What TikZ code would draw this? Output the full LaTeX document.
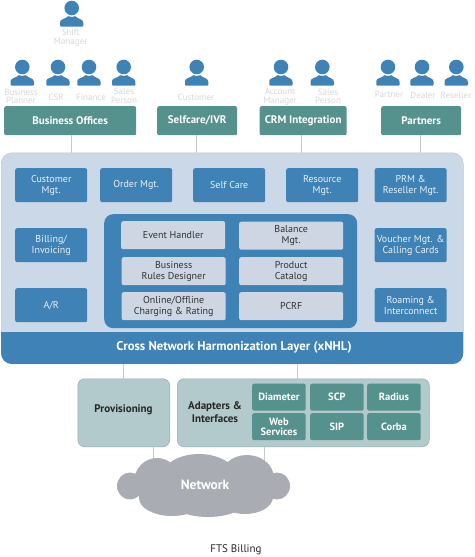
\documentclass[tikz,border=0pt]{standalone}
\usepackage{fontspec}
\setmainfont{PT Sans}
\usetikzlibrary{calc}

\definecolor{tealbox}{HTML}{55918D}
\definecolor{bluebox}{HTML}{3F82B5}
\definecolor{panelbg}{HTML}{CBD8E8}
\definecolor{innerbg}{HTML}{CDD6E2}
\definecolor{greenbg}{HTML}{B2CACB}
\definecolor{cloudgray}{HTML}{A9ADB3}
\definecolor{linegray}{HTML}{C6CACD}
\definecolor{rolegray}{HTML}{D9D6DA}

\begin{document}
\begin{tikzpicture}[x=1pt,y=-1pt,
  box/.style={rounded corners=2pt,inner sep=0pt,align=center,anchor=north west},
  gatebox/.style={box,fill=tealbox,text=white,font=\fontsize{11}{12}\selectfont\bfseries},
  modbox/.style={box,fill=bluebox,text=white!88!bluebox,minimum width=72pt,minimum height=34pt,font=\fontsize{10}{11}\selectfont},
  corebox/.style={box,fill=innerbg,text=black!80,minimum width=104pt,minimum height=28pt,font=\fontsize{10}{11}\selectfont},
  ifbox/.style={box,fill=tealbox,text=white,minimum width=53.5pt,minimum height=27pt,font=\fontsize{10.5}{9.5}\selectfont\bfseries},
  greenpanel/.style={box,fill=greenbg,draw=greenbg!85!black,line width=0.5pt,rounded corners=7pt,minimum height=68pt},
  role/.style={text=rolegray,align=center,inner sep=0pt,font=\fontsize{9}{8.6}\selectfont},
  link/.style={draw=linegray,line width=1pt},
  person/.pic={
    \fill[bluebox] (0,0) circle (7.3);
    \fill[bluebox] (-11.7,18.7) [rounded corners=1pt] -- (-11.7,15) [sharp corners] .. controls (-11.7,11) and (-6,11) .. (-3.5,8.2)
      .. controls (-1.5,9.2) and (1.5,9.2) .. (3.5,8.2) .. controls (6,11) and (11.7,11) .. (11.7,15) [rounded corners=1pt] -- (11.7,18.7) -- cycle;
  }]
  \useasboundingbox (0,0) rectangle (474,557);
  \fill[white] (0,0) rectangle (474,557);

  % ---------------- users ----------------
  \foreach \x/\y in {71.7/8,22.3/67,58/67,89/67,123.7/67,196.7/67,281/67,322.3/67,388/67,422/67,456.3/67}{
    \pic at (\x,\y) {person};
  }
  \foreach \n/\x/\y/\t in {shift/70.7/37.5/{Shift\\Manager},planner/21/96.5/{Business\\Planner},csr/56/97/{CSR},
    finance/91/97/{Finance},salesa/124/96/{Sales\\Person},customer/196/97.5/{Customer},account/280/96.5/{Account\\Manager},
    salesb/328/96.5/{Sales\\Person},partner/389/94.5/{Partner},dealer/423/95/{Dealer},reseller/456/95/{Reseller}}{
    \node[role] (\n) at (\x,\y) {\t};
  }

  % ---------------- channels ----------------
  \node[gatebox,minimum width=132pt,minimum height=29pt] (offices) at (4,106) {Business Offices};
  \node[gatebox,minimum width=80pt,minimum height=29pt] (selfcare) at (157,106) {Selfcare/IVR};
  \node[gatebox,minimum width=87pt,minimum height=29pt] (crm) at (259.5,106) {CRM Integration};
  \node[gatebox,minimum width=80pt,minimum height=29pt] (partners) at (381,106) {Partners};

  % ---------------- main panel ----------------
  \node[box,fill=panelbg,draw=panelbg!92!black,line width=0.5pt,rounded corners=11pt,minimum width=462pt,minimum height=211pt] (panel) at (1,152.5) {};
  \begin{scope}
    \clip[rounded corners=11pt] (panel.north west) rectangle (panel.south east);
    \fill[bluebox] (1,332) rectangle (463,364);
  \end{scope}
  \node[text=white,font=\fontsize{12.7}{14}\selectfont\bfseries] (xnhl) at (234,347.5) {Cross Network Harmonization Layer (xNHL)};

  \foreach \n/\x/\y/\t in {custmgt/15/168/{Customer\\Mgt.},ordermgt/100/168/{Order Mgt.},selfmgt/193/168/{Self Care},
    resmgt/286/168/{Resource\\Mgt.},prm/374.5/168/{PRM \&\\Reseller Mgt.},billing/15/228/{Billing/\\Invoicing},ar/15/288/{A/R},
    voucher/374.5/228/{Voucher Mgt. \&\\Calling Cards},roaming/374.5/288/{Roaming \&\\Interconnect}}{
    \node[modbox] (\n) at (\x,\y) {\t};
  }

  % ---------------- core ----------------
  \node[box,fill=bluebox,rounded corners=9pt,minimum width=253pt,minimum height=114pt] (core) at (104,214) {};
  \foreach \n/\x/\y/\t in {event/121/221/{Event Handler},balance/239/221.5/{Balance\\Mgt.},rules/121.5/257/{Business\\Rules Designer},
    catalog/239/257/{Product\\Catalog},charging/121.5/292/{Online/Offline\\Charging \& Rating},pcrf/239/292/{PCRF}}{
    \node[corebox] (\n) at (\x,\y) {\t};
  }

  % ---------------- bottom ----------------
  \node[greenpanel,minimum width=92pt] (prov) at (77.5,378.5) {};
  \node[font=\fontsize{11}{12}\selectfont\bfseries,text=black!85] (provtxt) at (123.5,409.5) {Provisioning};
  \node[greenpanel,minimum width=252pt] (adapters) at (177,378.5) {};
  \node[align=center,font=\fontsize{11}{12.5}\selectfont\bfseries,text=black!85] (adaptxt) at (215,412) {Adapters \&\\Interfaces};
  \foreach \n/\x/\y/\t in {diameter/252/383.5/{Diameter},scp/310/383.5/{SCP},radius/367/383.5/{Radius},
    web/252/413/{Web\\Services},sip/310/413/{SIP},corba/367/413/{Corba}}{
    \node[ifbox] (\n) at (\x,\y) {\t};
  }

  % ---------------- links ----------------
  \coordinate (netl) at (153,462);
  \coordinate (netr) at (264,462);
  \coordinate (provtop) at (123.5,364);
  \coordinate (adaptop) at (297.5,364);
  \draw[link] ([xshift=1.7pt]offices.south) -- ([xshift=1.7pt]offices.south |- panel.north);
  \draw[link] ([xshift=-1pt]selfcare.south) -- ([xshift=-1pt]selfcare.south |- panel.north);
  \draw[link] ([xshift=-2pt]crm.south) -- ([xshift=-2pt]crm.south |- panel.north);
  \draw[link] ([xshift=-1pt]partners.south) -- ([xshift=-1pt]partners.south |- panel.north);
  \draw[link] (provtop) -- (provtop |- prov.north);
  \draw[link] (adaptop) -- (adaptop |- adapters.north);
  \draw[link] (prov.south -| netl) -- (netl);
  \draw[link] (adapters.south -| netr) -- (netr);

  % ---------------- cloud ----------------
  \fill[cloudgray] (130,486) ellipse (13 and 13.5);
  \fill[cloudgray] (277,486) ellipse (13 and 13.5);
  \fill[cloudgray] (157,482) ellipse (23 and 24);
  \fill[cloudgray] (199,478) ellipse (38 and 24);
  \fill[cloudgray] (247,478) ellipse (27 and 23);
  \fill[cloudgray] (172,498) ellipse (33 and 18);
  \fill[cloudgray] (208,500) ellipse (38 and 17);
  \fill[cloudgray] (245,497) ellipse (28 and 17);
  \node[text=white,font=\fontsize{13.5}{15}\selectfont\bfseries] (network) at (205,484.5) {Network};

  \node[font=\fontsize{11}{12}\selectfont,text=black!85] (title) at (236,549.5) {FTS Billing};
\end{tikzpicture}
\end{document}
